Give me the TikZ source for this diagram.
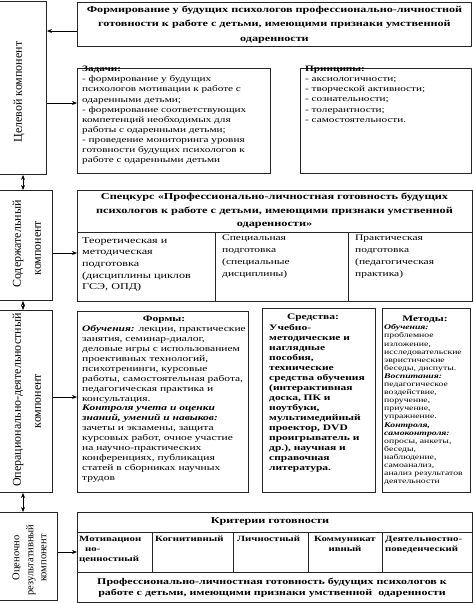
\documentclass[tikz,border=0pt]{standalone}
\usepackage{fontspec}
\setmainfont{Liberation Serif}[FakeStretch=1.35]
\newfontfamily\rotfont{Liberation Serif}
\usetikzlibrary{arrows.meta}
\begin{document}
\begin{tikzpicture}[x=1pt,y=-1pt,
  boxn/.style={draw=black!85, line width=0.9pt, inner sep=0pt, anchor=north west},
  txt/.style={inner sep=0pt, anchor=north west, align=left},
  ctr/.style={inner sep=0pt, align=center},
  rot/.style={inner sep=0pt, rotate=90, font=\rotfont\fontsize{12}{13}\selectfont},
  rots/.style={inner sep=0pt, rotate=90, font=\rotfont\fontsize{10.5}{12}\selectfont},
  cell/.style={font=\bfseries\fontsize{8}{10}\selectfont},
  arr/.style={-{Stealth[length=5pt,width=4pt]}, line width=0.7pt},
  darr/.style={{Stealth[length=5pt,width=4pt]}-{Stealth[length=5pt,width=4pt]}, line width=0.7pt},
  inl/.style={draw=black!85, line width=0.9pt}]
\useasboundingbox (0,0) rectangle (474,603);
% left column
\node[boxn, minimum width=49, minimum height=173] (L1) at (-3,1) {};
\node[boxn, minimum width=55, minimum height=110] (L2) at (-3,190) {};
\node[boxn, minimum width=55, minimum height=182] (L3) at (-3,310) {};
\node[boxn, minimum width=60, minimum height=88] (L4) at (-3,512) {};
\node[rot] (l1t) at (19,92) {Целевой компонент};
\node[rot] (l2a) at (18,244) {Содержательный};
\node[rot] (l2b) at (38,248) {компонент};
\node[rot] (l3a) at (18,400) {Операционально-деятельностный};
\node[rot] (l3b) at (38,401) {компонент};
\node[rots] (l4a) at (17,558) {Оценочно};
\node[rots] (l4b) at (31,560) {результативный};
\node[rots] (l4c) at (44,558) {компонент};
% right column boxes
\node[boxn, minimum width=394, minimum height=44] (T) at (77,2) {};
\node[boxn, minimum width=193, minimum height=105] (Z) at (77,68) {};
\node[boxn, minimum width=171, minimum height=105] (P) at (300,68) {};
\node[boxn, minimum width=395, minimum height=111] (S) at (77,190) {};
\node[boxn, minimum width=171, minimum height=181] (F) at (77,311) {};
\node[boxn, minimum width=113, minimum height=184] (Sr) at (262,308) {};
\node[boxn, minimum width=88, minimum height=184] (M) at (382,308) {};
\node[boxn, minimum width=395, minimum height=90] (K) at (77,512) {};
% inner lines
\coordinate (s1) at (77,232); \coordinate (s2) at (215,232); \coordinate (s3) at (348,232);
\draw[inl] (s1) -- (s1 -| S.east);
\draw[inl] (s2) -- (s2 |- S.south);
\draw[inl] (s3) -- (s3 |- S.south);
\coordinate (k1) at (77,532); \coordinate (k2) at (77,572);
\draw[inl] (k1) -- (k1 -| K.east);
\draw[inl] (k2) -- (k2 -| K.east);
\foreach \xx/\nm in {152/a,233/b,308/c,382/d}{
  \coordinate (kc\nm) at (\xx,532);
  \draw[inl] (kc\nm) -- (\xx,572);
}
% texts
\node[ctr, font=\bfseries\fontsize{9}{14.3}\selectfont] (Tt) at (T.center) {Формирование у будущих психологов профессионально-личностной\\ готовности к работе с детьми, имеющими признаки умственной\\ одаренности};
\node[txt, font=\fontsize{8.3}{10.1}\selectfont] (Zt) at (82,66) {\textbf{Задачи:}\\- формирование у будущих\\психологов мотивации к работе с\\одаренными детьми;\\- формирование соответствующих\\компетенций необходимых для\\работы с одаренными детьми;\\- проведение мониторинга уровня\\готовности будущих психологов к\\работе с одаренными детьми};
\node[txt, font=\fontsize{8.3}{10.1}\selectfont] (Pt) at (305,66) {\textbf{Принципы:}\\- аксиологичности;\\- творческой активности;\\- сознательности;\\- толерантности;\\- самостоятельности.};
\node[ctr, font=\bfseries\fontsize{9.1}{13.5}\selectfont] (St) at (274.5,211) {Спецкурс «Профессионально-личностная готовность будущих\\ психологов к работе с детьми, имеющими признаки умственной\\ одаренности»};
\node[txt, font=\fontsize{9}{11.7}\selectfont] (S1) at (82,237) {Теоретическая и\\методическая\\подготовка\\(дисциплины циклов\\ГСЭ, ОПД)};
\node[txt, font=\fontsize{8.5}{12}\selectfont] (S2) at (222,235) {Специальная\\подготовка\\(специальные\\дисциплины)};
\node[txt, font=\fontsize{8.5}{12}\selectfont] (S3) at (355,235) {Практическая\\подготовка\\(педагогическая\\практика)};
\node[ctr, font=\bfseries\fontsize{8.5}{10}\selectfont] (Fh) at (164,320) {Формы:};
\node[txt, font=\fontsize{8.5}{9.9}\selectfont] (Ft) at (82,325.5) {\textbf{\textit{Обучения:}} лекции, практические\\занятия, семинар-диалог,\\деловые игры с использованием\\проективных технологий,\\психотренинги, курсовые\\работы, самостоятельная работа,\\педагогическая практика и\\консультация.\\\textbf{\textit{Контроля учета и оценки}}\\\textbf{\textit{знаний, умений и навыков:}}\\зачеты и экзамены, защита\\курсовых работ, очное участие\\на научно-практических\\конференциях, публикация\\статей в сборниках научных\\трудов};
\node[ctr, font=\bfseries\fontsize{8.5}{10}\selectfont] (Srh) at (313,318) {Средства:};
\node[txt, font=\bfseries\fontsize{8.5}{10}\selectfont] (Srt) at (269,324) {Учебно-\\методические и\\наглядные\\пособия,\\технические\\средства обучения\\(интерактивная\\доска, ПК и\\ноутбуки,\\мультимедийный\\проектор, DVD\\проигрыватель и\\др.), научная и\\справочная\\литература.};
\node[ctr, font=\bfseries\fontsize{8.5}{10}\selectfont] (Mh) at (425,319) {Методы:};
\node[txt, font=\fontsize{7.2}{8.1}\selectfont] (Mt) at (384,324.5) {\textbf{\textit{Обучения:}}\\проблемное\\изложение,\\исследовательские\\эвристические\\беседы, диспуты.\\\textbf{\textit{Воспитания:}}\\педагогическое\\воздействие,\\поручение,\\приучение,\\упражнение.\\\textbf{\textit{Контроля,}}\\\textbf{\textit{самоконтроля:}}\\опросы, анкеты,\\беседы,\\наблюдение,\\самоанализ,\\анализ результатов\\деятельности};
\node[ctr, font=\bfseries\fontsize{9}{10}\selectfont] (Kh) at (270,522) {Критерии готовности};
\node[txt, cell] (K1) at (79,536) {Мотивацион\\\hspace*{6pt}но-\\ценностный};
\node[txt, cell] (K2) at (155,536) {Когнитивный};
\node[txt, cell] (K3) at (237,536) {Личностный};
\node[ctr, cell, anchor=north] (K4) at (345,536) {Коммуникат\\ивный};
\node[txt, cell] (K5) at (385,536) {Деятельностно-\\поведенческий};
\node[ctr, font=\bfseries\fontsize{8.85}{11}\selectfont] (Kb) at (272,587.5) {Профессионально-личностная готовность будущих психологов к\\работе с детьми, имеющими признаки умственной\ \ одаренности};
% connectors
\coordinate (a0) at (0,31); \coordinate (a1) at (0,103); \coordinate (a2) at (0,253);
\coordinate (a3) at (0,397); \coordinate (a4) at (0,552); \coordinate (vx) at (23,0);
\draw[arr] (T.west |- a0) -- (L1.east |- a0);
\draw[arr] (L1.east |- a1) -- (Z.west |- a1);
\draw[arr] (L2.east |- a2) -- (S.west |- a2);
\draw[arr] (L3.east |- a3) -- (F.west |- a3);
\draw[arr] (L4.east |- a4) -- (K.west |- a4);
\draw[darr] (L1.south -| vx) -- (L2.north -| vx);
\draw[darr] (L2.south -| vx) -- (L3.north -| vx);
\draw[darr] (L3.south -| vx) -- (L4.north -| vx);
\end{tikzpicture}
\end{document}
